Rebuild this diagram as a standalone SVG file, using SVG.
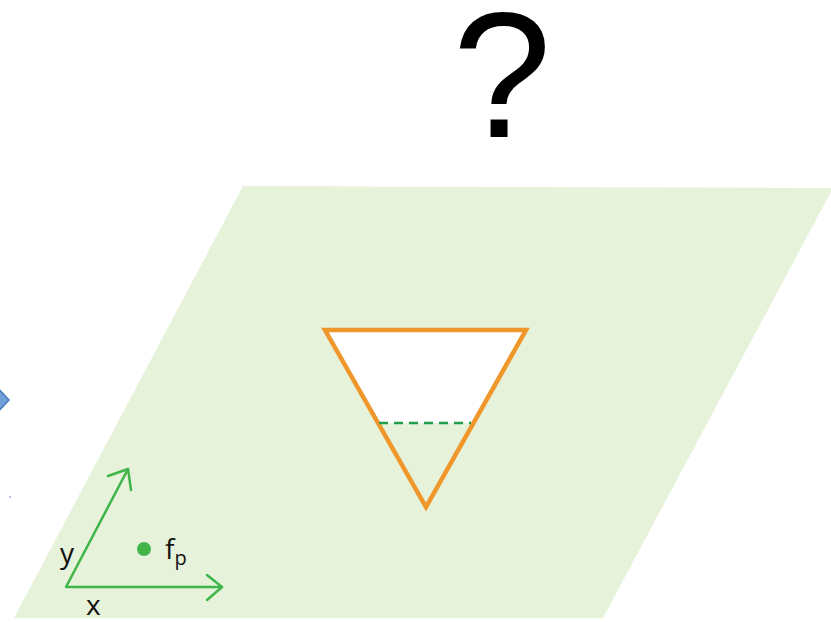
<svg xmlns="http://www.w3.org/2000/svg" width="831" height="622" viewBox="0 0 831 622">
<defs>
<style>
.axis{fill:none;stroke:#3fb54a;stroke-width:2.5;stroke-linecap:round;stroke-linejoin:round}
.lbl{font-family:"Open Sans","Noto Sans",sans-serif;font-size:28px;fill:#111}
</style>
</defs>
<rect width="831" height="622" fill="#ffffff"/>
<g id="plane">
<polygon points="243,186 833,188 603,618 14,618" fill="#e6f2d9"/>
</g>
<g id="diamond">
<polygon points="-6,384 9,400 -6,416 -20,400" fill="#6f9fd6" stroke="#4a78c0" stroke-width="1.5"/>
<circle cx="10" cy="497" r="0.8" fill="#4a78c0"/>
</g>
<g id="question">
<text x="502" y="137" font-family="Liberation Sans, Arial, sans-serif" font-size="178" text-anchor="middle" fill="#000">?</text>
</g>
<g id="triangle">
<polygon points="325,330 526,330 474,423 378,423" fill="#ffffff"/>
<polygon points="325,330 526,330 426,507" fill="none" stroke="#f0972b" stroke-width="4.5" stroke-linejoin="miter"/>
<line x1="379" y1="423" x2="471" y2="423" stroke="#1f9e4c" stroke-width="2.5" stroke-dasharray="9,6"/>
</g>
<g id="connectors">
<polyline class="axis" points="128,469 66,587 222,587"/>
<polyline class="axis" points="207,575 222,587 207,600"/>
<polyline class="axis" points="108,476 128,469 131,490"/>
</g>
<g id="point">
<circle cx="144" cy="549" r="7" fill="#3fb54a"/>
<text class="lbl" x="165" y="559">f<tspan font-size="20" dy="6">p</tspan></text>
</g>
<g id="labels">
<text class="lbl" x="60" y="563">y</text>
<text class="lbl" x="86" y="615">x</text>
</g>
</svg>
